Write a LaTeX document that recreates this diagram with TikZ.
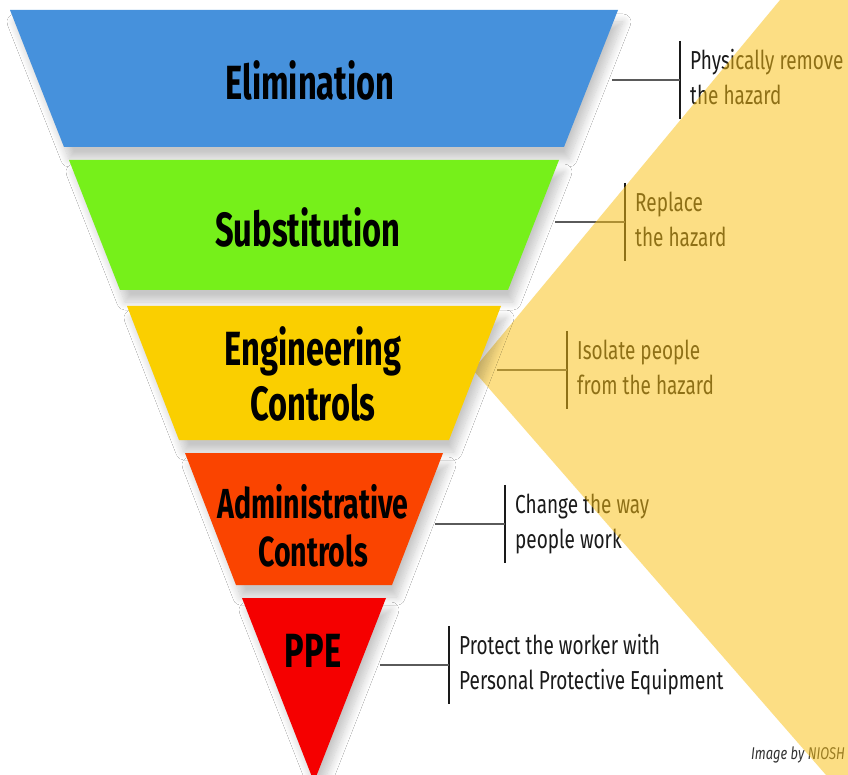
\documentclass[tikz,border=0pt]{standalone}
\usepackage{fontspec}
\newfontfamily\bandfont[FakeStretch=0.68]{Fira Sans Bold}
\newfontfamily\notefont[FakeStretch=0.73]{Fira Sans}
\newfontfamily\creditfont[FakeStretch=0.76]{Fira Sans Italic}
\usetikzlibrary{shadows.blur}
\definecolor{elimblue}{HTML}{4691DC}
\definecolor{substgreen}{HTML}{76F01A}
\definecolor{enggold}{HTML}{FACF00}
\definecolor{adminorange}{HTML}{FA4400}
\definecolor{ppered}{HTML}{F50000}
\definecolor{hazardtint}{HTML}{FAC014}
\definecolor{notegray}{HTML}{1A1A1A}
\definecolor{leadergray}{HTML}{5A5A5A}
\definecolor{creditgray}{HTML}{333333}

\begin{document}
\begin{tikzpicture}[x=1pt,y=-1pt,
	band/.style={blur shadow={shadow xshift=5pt,shadow yshift=-12pt,shadow blur radius=8pt,shadow opacity=22,shadow blur steps=12}},
	bandlabel/.style={font=\bandfont\fontsize{48}{55}\selectfont,align=center,inner sep=0pt},
	note/.style={font=\notefont\fontsize{26}{35}\selectfont,text=notegray,align=left,anchor=west,inner xsep=10pt,inner ysep=4pt},
	leader/.style={leadergray,line width=1.8pt},
	bar/.style={notegray,line width=1.5pt}]
	\useasboundingbox (0,0) rectangle (848,775);
	\fill[white] (0,0) rectangle (848,775);

	% notes on the right
	\node[note] (elimnote) at (680,80) {\strut Physically remove\\the hazard\strut};
	\node[note] (substnote) at (625,222) {\strut Replace\\the hazard\strut};
	\node[note] (engnote) at (567,370) {\strut Isolate people\\from the hazard\strut};
	\node[note] (adminnote) at (505,524) {\strut Change the way\\people work\strut};
	\node[note] (ppenote) at (449,665) {\strut Protect the worker with\\Personal Protective Equipment\strut};

	\coordinate (elimtip) at (612,80);
	\coordinate (substtip) at (555,222);
	\coordinate (engtip) at (497,370);
	\coordinate (admintip) at (435,524);
	\coordinate (ppetip) at (380,665);

	\draw[bar]	(elimnote.north west) -- (elimnote.south west);
	\draw[bar]	(substnote.north west) -- (substnote.south west);
	\draw[bar]	(engnote.north west) -- (engnote.south west);
	\draw[bar]	(adminnote.north west) -- (adminnote.south west);
	\draw[bar]	(ppenote.north west) -- (ppenote.south west);

	\draw[leader]	(elimtip) -- (elimnote.west);
	\draw[leader]	(substtip) -- (substnote.west);
	\draw[leader]	(engtip) -- (engnote.west);
	\draw[leader]	(admintip) -- (adminnote.west);
	\draw[leader]	(ppetip) -- (ppenote.west);

	\node[font=\creditfont\fontsize{17}{20}\selectfont,text=creditgray,anchor=base east,inner sep=0pt] (credit) at (845,759) {Image by NIOSH};

	% yellow wedge laid over the notes
	\fill[hazardtint,fill opacity=0.52] (780,0) -- (473,370) -- (826,775) -- (848,775) -- (848,0) -- cycle;

	% the inverted pyramid
	\path[band,fill=elimblue]	(10,10) -- (618,10) -- (564,147) -- (64,147) -- cycle;
	\path[band,fill=substgreen]	(69,160) -- (559,160) -- (508,290) -- (120,290) -- cycle;
	\path[band,fill=enggold]	(127,306) -- (501,306) -- (449,440) -- (179,440) -- cycle;
	\path[band,fill=adminorange]	(185,453) -- (443,453) -- (392,585) -- (236,585) -- cycle;
	\path[band,fill=ppered]		(242,598) -- (386,598) -- (314,782) -- cycle;

	\node[bandlabel] (elimlabel) at (310,80) {Elimination};
	\node[bandlabel] (substlabel) at (308,227) {Substitution};
	\node[bandlabel] (englabel) at (313,374) {Engineering\\Controls};
	\node[bandlabel,font=\bandfont\fontsize{42}{48}\selectfont] (adminlabel) at (313,526) {Administrative\\Controls};
	\node[bandlabel] (ppelabel) at (313,651) {PPE};
\end{tikzpicture}
\end{document}
